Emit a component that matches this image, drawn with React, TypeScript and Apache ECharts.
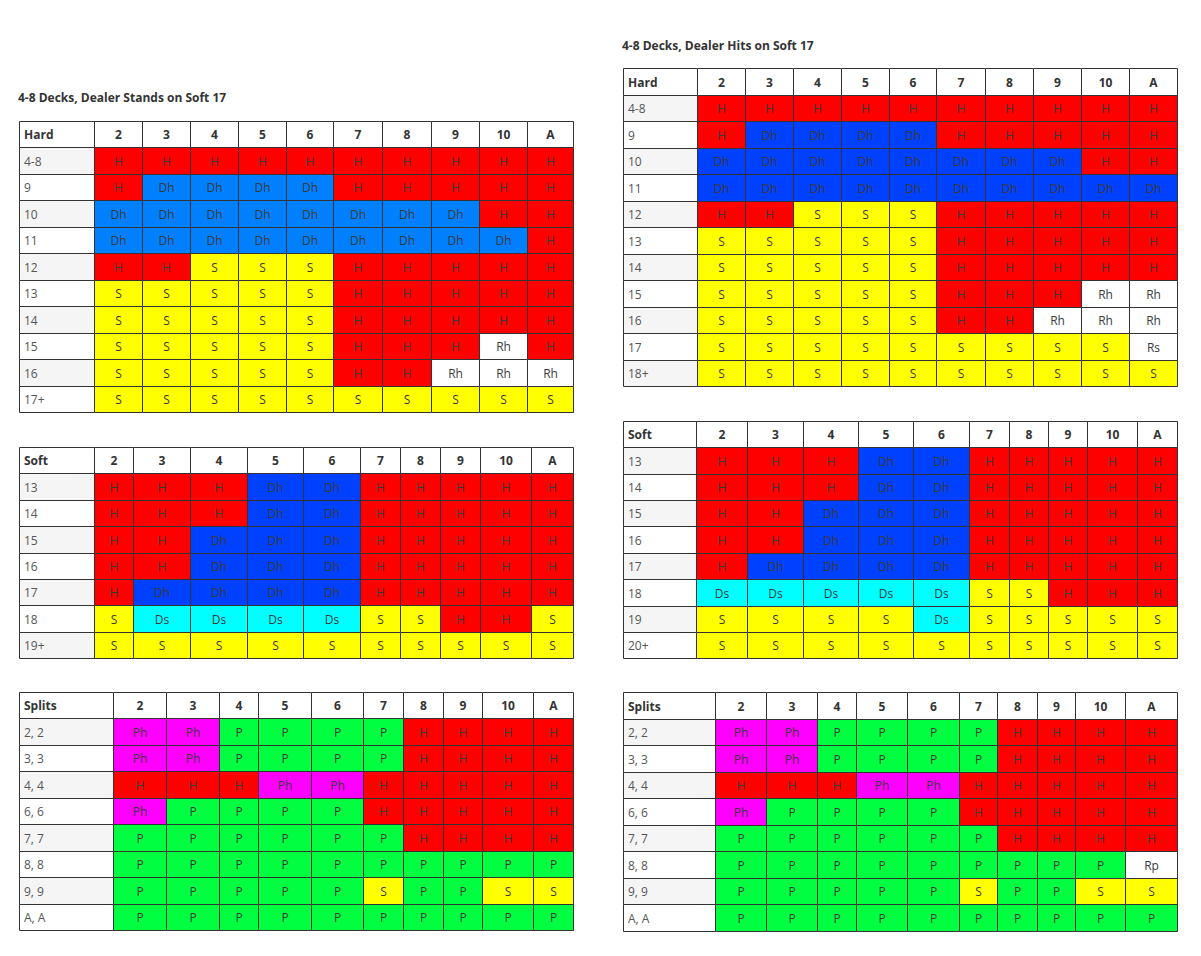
import { useEffect, useRef } from "react";
import * as echarts from "echarts";

// ---------- DATA ----------
const dealerCards = ["2", "3", "4", "5", "6", "7", "8", "9", "10", "A"];

const titleS17 = "4-8 Decks, Dealer Stands on Soft 17";
const titleH17 = "4-8 Decks, Dealer Hits on Soft 17";

const hardRowsS17 = ["4-8", "9", "10", "11", "12", "13", "14", "15", "16", "17+"];
const hardS17 = [
  ["H", "H", "H", "H", "H", "H", "H", "H", "H", "H"],
  ["H", "Dh", "Dh", "Dh", "Dh", "H", "H", "H", "H", "H"],
  ["Dh", "Dh", "Dh", "Dh", "Dh", "Dh", "Dh", "Dh", "H", "H"],
  ["Dh", "Dh", "Dh", "Dh", "Dh", "Dh", "Dh", "Dh", "Dh", "H"],
  ["H", "H", "S", "S", "S", "H", "H", "H", "H", "H"],
  ["S", "S", "S", "S", "S", "H", "H", "H", "H", "H"],
  ["S", "S", "S", "S", "S", "H", "H", "H", "H", "H"],
  ["S", "S", "S", "S", "S", "H", "H", "H", "Rh", "H"],
  ["S", "S", "S", "S", "S", "H", "H", "Rh", "Rh", "Rh"],
  ["S", "S", "S", "S", "S", "S", "S", "S", "S", "S"],
];

const softRowsS17 = ["13", "14", "15", "16", "17", "18", "19+"];
const softS17 = [
  ["H", "H", "H", "Dh", "Dh", "H", "H", "H", "H", "H"],
  ["H", "H", "H", "Dh", "Dh", "H", "H", "H", "H", "H"],
  ["H", "H", "Dh", "Dh", "Dh", "H", "H", "H", "H", "H"],
  ["H", "H", "Dh", "Dh", "Dh", "H", "H", "H", "H", "H"],
  ["H", "Dh", "Dh", "Dh", "Dh", "H", "H", "H", "H", "H"],
  ["S", "Ds", "Ds", "Ds", "Ds", "S", "S", "H", "H", "S"],
  ["S", "S", "S", "S", "S", "S", "S", "S", "S", "S"],
];

const splitRows = ["2, 2", "3, 3", "4, 4", "6, 6", "7, 7", "8, 8", "9, 9", "A, A"];
const splitsS17 = [
  ["Ph", "Ph", "P", "P", "P", "P", "H", "H", "H", "H"],
  ["Ph", "Ph", "P", "P", "P", "P", "H", "H", "H", "H"],
  ["H", "H", "H", "Ph", "Ph", "H", "H", "H", "H", "H"],
  ["Ph", "P", "P", "P", "P", "H", "H", "H", "H", "H"],
  ["P", "P", "P", "P", "P", "P", "H", "H", "H", "H"],
  ["P", "P", "P", "P", "P", "P", "P", "P", "P", "P"],
  ["P", "P", "P", "P", "P", "S", "P", "P", "S", "S"],
  ["P", "P", "P", "P", "P", "P", "P", "P", "P", "P"],
];

const hardRowsH17 = ["4-8", "9", "10", "11", "12", "13", "14", "15", "16", "17", "18+"];
const hardH17 = [
  ["H", "H", "H", "H", "H", "H", "H", "H", "H", "H"],
  ["H", "Dh", "Dh", "Dh", "Dh", "H", "H", "H", "H", "H"],
  ["Dh", "Dh", "Dh", "Dh", "Dh", "Dh", "Dh", "Dh", "H", "H"],
  ["Dh", "Dh", "Dh", "Dh", "Dh", "Dh", "Dh", "Dh", "Dh", "Dh"],
  ["H", "H", "S", "S", "S", "H", "H", "H", "H", "H"],
  ["S", "S", "S", "S", "S", "H", "H", "H", "H", "H"],
  ["S", "S", "S", "S", "S", "H", "H", "H", "H", "H"],
  ["S", "S", "S", "S", "S", "H", "H", "H", "Rh", "Rh"],
  ["S", "S", "S", "S", "S", "H", "H", "Rh", "Rh", "Rh"],
  ["S", "S", "S", "S", "S", "S", "S", "S", "S", "Rs"],
  ["S", "S", "S", "S", "S", "S", "S", "S", "S", "S"],
];

const softRowsH17 = ["13", "14", "15", "16", "17", "18", "19", "20+"];
const softH17 = [
  ["H", "H", "H", "Dh", "Dh", "H", "H", "H", "H", "H"],
  ["H", "H", "H", "Dh", "Dh", "H", "H", "H", "H", "H"],
  ["H", "H", "Dh", "Dh", "Dh", "H", "H", "H", "H", "H"],
  ["H", "H", "Dh", "Dh", "Dh", "H", "H", "H", "H", "H"],
  ["H", "Dh", "Dh", "Dh", "Dh", "H", "H", "H", "H", "H"],
  ["Ds", "Ds", "Ds", "Ds", "Ds", "S", "S", "H", "H", "H"],
  ["S", "S", "S", "S", "Ds", "S", "S", "S", "S", "S"],
  ["S", "S", "S", "S", "S", "S", "S", "S", "S", "S"],
];

const splitsH17 = [
  ["Ph", "Ph", "P", "P", "P", "P", "H", "H", "H", "H"],
  ["Ph", "Ph", "P", "P", "P", "P", "H", "H", "H", "H"],
  ["H", "H", "H", "Ph", "Ph", "H", "H", "H", "H", "H"],
  ["Ph", "P", "P", "P", "P", "H", "H", "H", "H", "H"],
  ["P", "P", "P", "P", "P", "P", "H", "H", "H", "H"],
  ["P", "P", "P", "P", "P", "P", "P", "P", "P", "Rp"],
  ["P", "P", "P", "P", "P", "S", "P", "P", "S", "S"],
  ["P", "P", "P", "P", "P", "P", "P", "P", "P", "P"],
];

// ---------- STYLE / LAYOUT ----------
const FONT = "'Open Sans', 'Noto Sans', sans-serif";
const BORDER = "#333333";
const colorsLight: Record<string, string> = {
  H: "#FF0000", S: "#FFFF00", Dh: "#0080FF", Ds: "#00FFFF",
  P: "#00FF40", Ph: "#FF00FF", Rh: "#FFFFFF", Rs: "#FFFFFF", Rp: "#FFFFFF",
};
const colorsDeep: Record<string, string> = { ...colorsLight, Dh: "#0040FF" };

type TableDef = {
  corner: string;
  rows: string[];
  cells: string[][];
  left: number;
  top: number;
  rowH: number;
  widths: number[];
  palette: Record<string, string>;
};

const tables: TableDef[] = [
  { corner: "Hard", rows: hardRowsS17, cells: hardS17, left: 19.3, top: 121, rowH: 26.45,
    widths: [74.4, 48, 48, 48, 48, 47.6, 49, 48.4, 48, 48, 46], palette: colorsLight },
  { corner: "Soft", rows: softRowsS17, cells: softS17, left: 19.3, top: 446.7, rowH: 26.45,
    widths: [74.4, 39.6, 57, 57, 56, 57, 40, 40, 40, 51, 41.4], palette: colorsDeep },
  { corner: "Splits", rows: splitRows, cells: splitsS17, left: 19.3, top: 691.7, rowH: 26.5,
    widths: [93.4, 53, 53, 39, 53, 52, 40, 40, 39, 51, 40], palette: colorsDeep },
  { corner: "Hard", rows: hardRowsH17, cells: hardH17, left: 623.3, top: 68.3, rowH: 26.5,
    widths: [74, 47.4, 48, 48, 48, 47.6, 48.4, 48, 48, 48, 48], palette: colorsDeep },
  { corner: "Soft", rows: softRowsH17, cells: softH17, left: 623.3, top: 420.7, rowH: 26.4,
    widths: [73, 51, 56, 55, 55, 56, 39.4, 39, 39, 50, 40], palette: colorsDeep },
  { corner: "Splits", rows: splitRows, cells: splitsH17, left: 623.3, top: 692.3, rowH: 26.5,
    widths: [91.4, 51.6, 51, 39, 51.2, 51.2, 38.6, 39.4, 38, 50, 52], palette: colorsDeep },
];

type Cell = { value: number[]; text: string; fill: string; kind: "corner" | "head" | "label" | "cell" };

function buildOption() {
  const grid: any[] = [];
  const xAxis: any[] = [];
  const yAxis: any[] = [];
  const series: any[] = [];

  tables.forEach((t, gi) => {
    const edges = [0];
    t.widths.forEach((w) => edges.push(edges[edges.length - 1] + w));
    const total = edges[edges.length - 1];
    const nRows = t.rows.length + 1;
    grid.push({ left: t.left, top: t.top, width: total, height: nRows * t.rowH, containLabel: false });
    xAxis.push({ type: "value", gridIndex: gi, min: 0, max: total, show: false });
    yAxis.push({ type: "value", gridIndex: gi, min: 0, max: nRows, inverse: true, show: false });

    const items: Cell[] = [];
    items.push({ value: [edges[0], 0, edges[1]], text: t.corner, fill: "#FFFFFF", kind: "corner" });
    dealerCards.forEach((c, ci) => {
      items.push({ value: [edges[ci + 1], 0, edges[ci + 2]], text: c, fill: "#FFFFFF", kind: "head" });
    });
    t.rows.forEach((r, ri) => {
      items.push({
        value: [edges[0], ri + 1, edges[1]], text: r,
        fill: ri % 2 === 0 ? "#F5F5F5" : "#FFFFFF", kind: "label",
      });
      t.cells[ri].forEach((code, ci) => {
        items.push({ value: [edges[ci + 1], ri + 1, edges[ci + 2]], text: code, fill: t.palette[code], kind: "cell" });
      });
    });

    series.push({
      type: "custom",
      xAxisIndex: gi,
      yAxisIndex: gi,
      clip: false,
      silent: true,
      data: items.map((d) => d.value),
      renderItem: (params: any, api: any) => {
        const d = items[params.dataIndex];
        const p0 = api.coord([api.value(0), api.value(1)]);
        const p1 = api.coord([api.value(2), api.value(1) + 1]);
        const x0 = Math.round(p0[0]) + 0.5;
        const y0 = Math.round(p0[1]) + 0.5;
        const x1 = Math.round(p1[0]) + 0.5;
        const y1 = Math.round(p1[1]) + 0.5;
        const left = d.kind === "corner" || d.kind === "label";
        const bold = d.kind === "corner" || d.kind === "head";
        return {
          type: "group",
          children: [
            {
              type: "rect",
              shape: { x: x0, y: y0, width: x1 - x0, height: y1 - y0 },
              style: { fill: d.fill, stroke: BORDER, lineWidth: 1 },
            },
            {
              type: "text",
              x: left ? x0 + 4.5 : (x0 + x1) / 2,
              y: (y0 + y1) / 2,
              style: {
                text: d.text,
                fill: bold ? "#333333" : d.kind === "label" ? "#555555" : "#3a3a3a",
                font: `${bold ? "bold " : ""}12px ${FONT}`,
                align: left ? "left" : "center",
                verticalAlign: "middle",
              },
            },
          ],
        };
      },
    });
  });

  return {
    animation: false,
    backgroundColor: "#FFFFFF",
    title: [
      { text: titleS17, left: 18, top: 91, textStyle: { fontFamily: FONT, fontSize: 12, fontWeight: "bold", color: "#333333" }, padding: 0 },
      { text: titleH17, left: 622, top: 39, textStyle: { fontFamily: FONT, fontSize: 12, fontWeight: "bold", color: "#333333" }, padding: 0 },
    ],
    grid,
    xAxis,
    yAxis,
    series,
  };
}

export default function App() {
  const ref = useRef<HTMLDivElement>(null);
  useEffect(() => {
    if (!ref.current) return;
    const chart = echarts.init(ref.current, undefined, { renderer: "svg" });
    chart.setOption(buildOption() as any);
    return () => chart.dispose();
  }, []);
  return (
    <div
      ref={ref}
      style={{ position: "absolute", left: 0, top: 0, width: 1201, height: 956, background: "#fff" }}
    />
  );
}
